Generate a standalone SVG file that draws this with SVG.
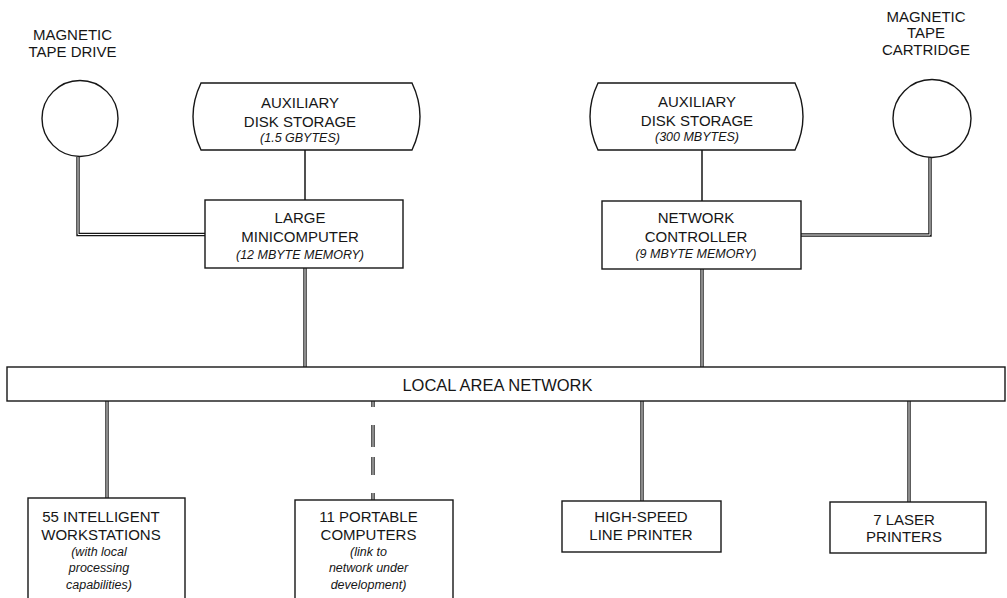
<svg xmlns="http://www.w3.org/2000/svg" width="1007" height="598" viewBox="0 0 1007 598">
<style>
.shape{fill:#fff;stroke:#161616;stroke-width:1.4}
.single{fill:none;stroke:#161616;stroke-width:1.5}
.dblo{fill:none;stroke:#161616;stroke-width:3.4}
.dbli{fill:none;stroke:#fff;stroke-width:1}
.t{font-family:"Liberation Sans",Arial,sans-serif;font-size:15px;fill:#161616;text-anchor:middle}
.i{font-family:"Liberation Sans",Arial,sans-serif;font-size:12.5px;font-style:italic;fill:#161616;text-anchor:middle}
</style>
<rect width="1007" height="598" fill="#fff"/>
<g id="connectors">
  <line class="single" x1="305" y1="150" x2="305" y2="200"/>
  <line class="single" x1="702" y1="150" x2="702" y2="201"/>
  <path class="dblo" d="M78,157 V234.5 H205"/>
  <path class="dbli" d="M78,157 V234.5 H205"/>
  <path class="dblo" d="M930,157 V235 H801"/>
  <path class="dbli" d="M930,157 V235 H801"/>
  <line class="dblo" x1="305" y1="268" x2="305" y2="367"/>
  <line class="dbli" x1="305" y1="268" x2="305" y2="367"/>
  <line class="dblo" x1="702" y1="269" x2="702" y2="367"/>
  <line class="dbli" x1="702" y1="269" x2="702" y2="367"/>
  <line class="dblo" x1="107" y1="401" x2="107" y2="498"/>
  <line class="dbli" x1="107" y1="401" x2="107" y2="498"/>
  <line class="dblo" x1="373" y1="401" x2="373" y2="500" stroke-dasharray="6 18 22 10 18 18 7"/>
  <line class="dbli" x1="373" y1="401" x2="373" y2="500"/>
  <line class="dblo" x1="642" y1="401" x2="642" y2="501"/>
  <line class="dbli" x1="642" y1="401" x2="642" y2="501"/>
  <line class="dblo" x1="909" y1="401" x2="909" y2="502"/>
  <line class="dbli" x1="909" y1="401" x2="909" y2="502"/>
</g>
<g id="tape-drive">
  <circle class="shape" cx="80" cy="118.5" r="38"/>
  <text class="t" x="72.5" y="40">MAGNETIC</text>
  <text class="t" x="72.5" y="56.5">TAPE DRIVE</text>
</g>
<g id="tape-cartridge">
  <circle class="shape" cx="932" cy="118.5" r="39"/>
  <text class="t" x="926" y="21.5">MAGNETIC</text>
  <text class="t" x="926" y="38">TAPE</text>
  <text class="t" x="926" y="55">CARTRIDGE</text>
</g>
<g id="disk-1">
  <path class="shape" d="M201,83 H412 Q428,116.5 412,150 H201 Q185,116.5 201,83 Z"/>
  <text class="t" x="300" y="108">AUXILIARY</text>
  <text class="t" x="300" y="126.5">DISK STORAGE</text>
  <text class="i" x="300" y="141.5">(1.5 GBYTES)</text>
</g>
<g id="disk-2">
  <path class="shape" d="M598,83 H795 Q811,116.5 795,150 H598 Q582,116.5 598,83 Z"/>
  <text class="t" x="697" y="107">AUXILIARY</text>
  <text class="t" x="697" y="125.5">DISK STORAGE</text>
  <text class="i" x="697" y="140.5">(300 MBYTES)</text>
</g>
<g id="minicomputer">
  <rect class="shape" x="205" y="200" width="198" height="68"/>
  <text class="t" x="300" y="223">LARGE</text>
  <text class="t" x="300" y="241.5">MINICOMPUTER</text>
  <text class="i" x="300" y="258.5">(12 MBYTE MEMORY)</text>
</g>
<g id="network-controller">
  <rect class="shape" x="602" y="201" width="199" height="68"/>
  <text class="t" x="696" y="223">NETWORK</text>
  <text class="t" x="696" y="241.5">CONTROLLER</text>
  <text class="i" x="696" y="257.5">(9 MBYTE MEMORY)</text>
</g>
<g id="lan">
  <rect class="shape" x="7" y="367" width="998" height="34"/>
  <text class="t" x="497.5" y="391" style="font-size:16.5px">LOCAL AREA NETWORK</text>
</g>
<g id="workstations">
  <rect class="shape" x="28" y="498" width="157" height="110"/>
  <text class="t" x="101" y="521.5">55 INTELLIGENT</text>
  <text class="t" x="101" y="540">WORKSTATIONS</text>
  <text class="i" x="99" y="555.5">(with local</text>
  <text class="i" x="99" y="572">processing</text>
  <text class="i" x="99" y="589">capabilities)</text>
</g>
<g id="portables">
  <rect class="shape" x="295" y="500" width="158" height="110"/>
  <text class="t" x="368.5" y="521.5">11 PORTABLE</text>
  <text class="t" x="368.5" y="540">COMPUTERS</text>
  <text class="i" x="368.5" y="555.5">(link to</text>
  <text class="i" x="368.5" y="572">network under</text>
  <text class="i" x="368.5" y="589">development)</text>
</g>
<g id="line-printer">
  <rect class="shape" x="562" y="501" width="159" height="51"/>
  <text class="t" x="641" y="521.5">HIGH-SPEED</text>
  <text class="t" x="641" y="540">LINE PRINTER</text>
</g>
<g id="laser-printers">
  <rect class="shape" x="830" y="502" width="156" height="51"/>
  <text class="t" x="904" y="525">7 LASER</text>
  <text class="t" x="904" y="541.5">PRINTERS</text>
</g>
</svg>
